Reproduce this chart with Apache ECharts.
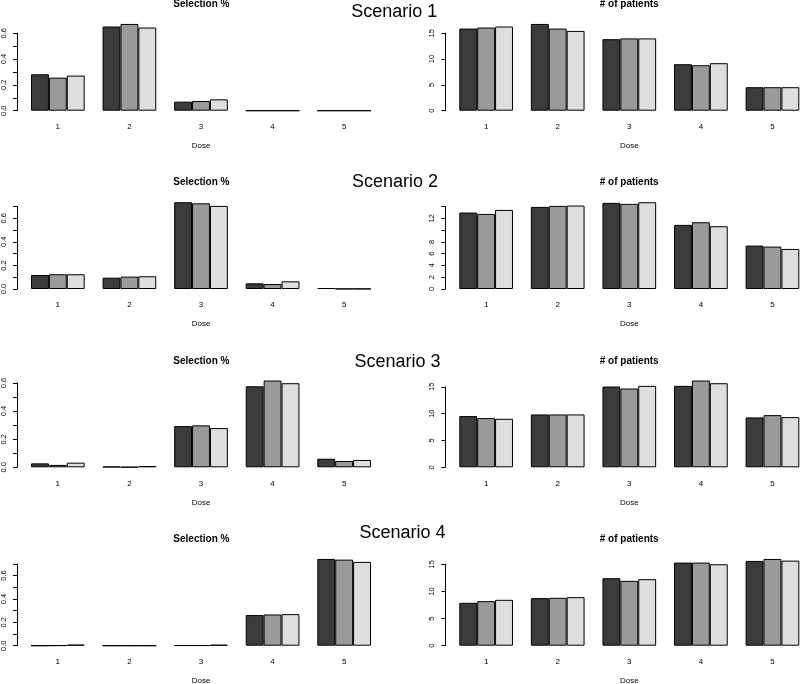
<!DOCTYPE html>
<html><head><meta charset="utf-8">
<script src="https://cdn.jsdelivr.net/npm/echarts@6/dist/echarts.min.js"></script>
<style>html,body{margin:0;padding:0;background:#fff}#c{width:800px;height:684px}</style>
</head><body><div id="c"></div>
<script>
// ---------- data ----------
const doses = ['1', '2', '3', '4', '5'];
const scenarioNames = ['Scenario 1', 'Scenario 2', 'Scenario 3', 'Scenario 4'];
const panelTitles = ['Selection %', '# of patients'];
const xAxisTitle = 'Dose';

// selection proportions: [dark, mid, light] per scenario
const selS1 = [[0.282, 0.652, 0.070, 0, 0], [0.256, 0.672, 0.075, 0, 0], [0.272, 0.644, 0.088, 0, 0]];
const selS2 = [[0.119, 0.096, 0.736, 0.048, 0.008], [0.125, 0.105, 0.727, 0.042, 0.002], [0.125, 0.108, 0.705, 0.065, 0.002]];
const selS3 = [[0.028, 0.005, 0.293, 0.576, 0.061], [0.017, 0.002, 0.298, 0.617, 0.045], [0.033, 0.009, 0.279, 0.598, 0.052]];
const selS4 = [[0, 0, 0.003, 0.262, 0.742], [0.002, 0, 0.003, 0.267, 0.736], [0.009, 0, 0.008, 0.270, 0.717]];

// number of patients: [dark, mid, light] per scenario
const patS1 = [[15.9, 16.8, 13.85, 9.0, 4.55], [16.1, 15.9, 14.0, 8.8, 4.55], [16.3, 15.45, 14.0, 9.2, 4.55]];
const patS2 = [[12.96, 13.92, 14.6, 10.87, 7.36], [12.73, 14.09, 14.43, 11.32, 7.19], [13.41, 14.15, 14.71, 10.64, 6.79]];
const patS3 = [[9.55, 9.86, 15.06, 15.19, 9.3], [9.17, 9.86, 14.69, 16.18, 9.73], [9.05, 9.86, 15.19, 15.68, 9.36]];
const patS4 = [[7.9, 8.76, 12.43, 15.31, 15.61], [8.2, 8.82, 11.94, 15.31, 15.98], [8.45, 8.94, 12.25, 15.0, 15.67]];

// y-axis ticks
const selTickTop = [0.6, 0.7, 0.6, 0.7];
const selTickStep = 0.1;
const selTickLabels = ['0.0', '0.2', '0.4', '0.6'];
const patTickTop = [15, 14, 15, 15];
const patTickStep = [5, 2, 5, 5];
const patTickLabels = [['0', '5', '10', '15'], ['0', '2', '4', '6', '8', '12'], ['0', '5', '10', '15'], ['0', '5', '10', '15']];

// ---------- styling / layout ----------
const barColors = ['#3b3b3b', '#9a9a9a', '#dedede'];
const FONT = '"Liberation Sans", Arial, Helvetica, sans-serif';
const rowBase = [110.7, 289, 467.3, 645.7];
const gridLeft = [22.05, 450.35];
const gridW = 357.9;
const plotH = 93.7;
const H = 684;
const scenTitlePos = [[394.3, 11.7], [395, 181.7], [397.5, 361.7], [402.5, 533.3]];
const panelTitleX = [201.4, 629.2];
const panelTitleDY = 106.3;

const selData = [selS1, selS2, selS3, selS4];
const patData = [patS1, patS2, patS3, patS4];

const grids = [], xAxes = [], yAxes = [], series = [], graphics = [];

function addPanel(row, col, data, top, step, labels, decimals) {
  const idx = grids.length;
  const maxV = Math.max(...data.flat());
  const ppu = plotH / (1.08 * maxV);
  const y0 = rowBase[row];
  const h = top * ppu;
  grids.push({ left: gridLeft[col], width: gridW, top: y0 - h, height: h, containLabel: false, outerBoundsMode: 'none' });
  xAxes.push({
    type: 'category', gridIndex: idx, data: doses, boundaryGap: true,
    axisLine: { show: false }, axisTick: { show: false }, splitLine: { show: false },
    axisLabel: { margin: 12, fontSize: 8, color: '#000', fontFamily: FONT },
    name: xAxisTitle, nameLocation: 'middle', nameGap: 31,
    nameTextStyle: { fontSize: 8, color: '#000', fontFamily: FONT }
  });
  yAxes.push({
    type: 'value', gridIndex: idx, min: 0, max: top, interval: step, offset: 5,
    axisLine: { show: true, lineStyle: { color: '#000', width: 1 } },
    axisTick: { show: true, length: 4, lineStyle: { color: '#000', width: 1 } },
    splitLine: { show: false },
    axisLabel: {
      rotate: 90, margin: 9, fontSize: 7.5, color: '#000', fontFamily: FONT,
      showMinLabel: true, showMaxLabel: true,
      formatter: v => { const s = v.toFixed(decimals); return labels.includes(s) ? s : ''; }
    }
  });
  data.forEach((vals, k) => {
    series.push({
      type: 'bar', xAxisIndex: idx, yAxisIndex: idx, data: vals,
      barGap: '0%', barCategoryGap: '25%', clip: false, silent: true,
      itemStyle: { color: barColors[k], borderColor: '#000', borderWidth: 1 }
    });
  });
  graphics.push({
    type: 'text', x: panelTitleX[col], y: y0 - panelTitleDY, silent: true,
    style: { text: panelTitles[col], fontSize: 10, fontWeight: 'bold', fill: '#000', fontFamily: FONT, textAlign: 'center', textVerticalAlign: 'middle' }
  });
}

for (let r = 0; r < 4; r++) {
  addPanel(r, 0, selData[r], selTickTop[r], selTickStep, selTickLabels, 1);
  addPanel(r, 1, patData[r], patTickTop[r], patTickStep[r], patTickLabels[r], 0);
  graphics.push({
    type: 'text', x: scenTitlePos[r][0], y: scenTitlePos[r][1], silent: true,
    style: { text: scenarioNames[r], fontSize: 18, fill: '#000', fontFamily: FONT, textAlign: 'center', textVerticalAlign: 'middle' }
  });
}

const chart = echarts.init(document.getElementById('c'), null, { renderer: 'canvas' });
chart.setOption({
  backgroundColor: '#fff',
  animation: false,
  grid: grids, xAxis: xAxes, yAxis: yAxes, series: series,
  graphic: graphics
});
</script>
</body></html>
